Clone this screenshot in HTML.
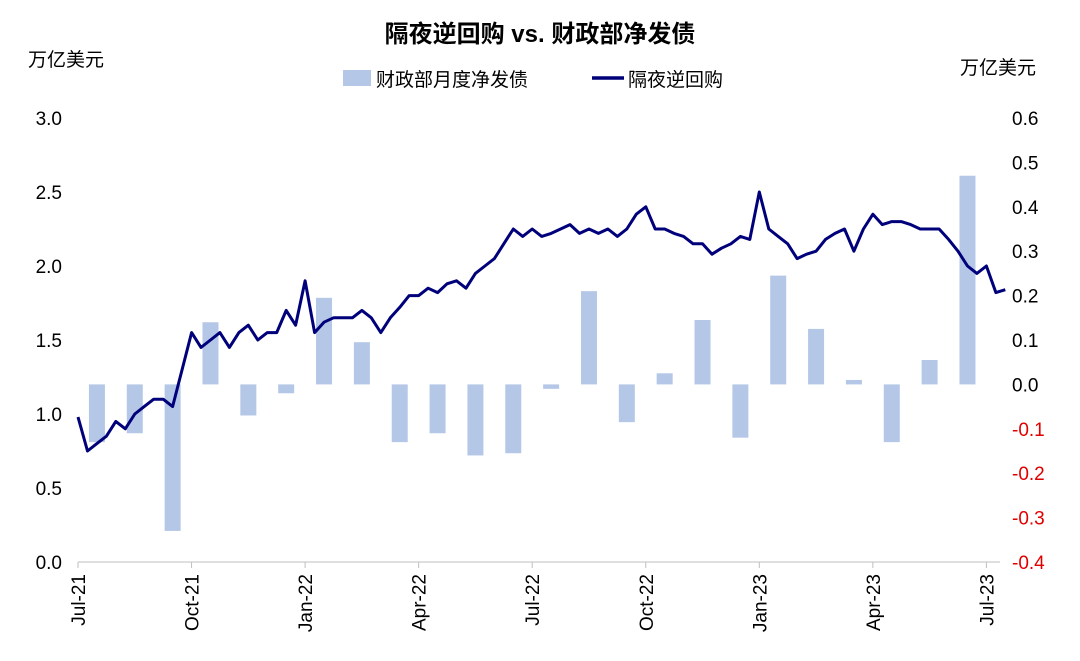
<!DOCTYPE html>
<html><head><meta charset="utf-8"><style>
html,body{margin:0;padding:0;background:#fff;}
svg text{font-family:"Liberation Sans","Noto Sans CJK SC",sans-serif;}
</style></head><body>
<svg id="chart" width="1080" height="656" xmlns="http://www.w3.org/2000/svg">
<text x="540" y="42" text-anchor="middle" font-size="24" font-weight="bold" fill="#000">隔夜逆回购 vs. 财政部净发债</text>
<text x="28" y="66" font-size="19" fill="#000">万亿美元</text>
<text x="960" y="74" font-size="19" fill="#000">万亿美元</text>
<g>
<rect x="343" y="70" width="28" height="16" fill="#b4c7e7"/>
<text x="376" y="86" font-size="19">财政部月度净发债</text>
<line x1="592" y1="78" x2="624" y2="78" stroke="#00007a" stroke-width="3.5"/>
<text x="628" y="86" font-size="19">隔夜逆回购</text>
</g>
<g id="axes"></g>
<g id="bars"></g>
<g id="line"></g>
</svg>
<script>
const xTickLabels=["Jul-21","Oct-21","Jan-22","Apr-22","Jul-22","Oct-22","Jan-23","Apr-23","Jul-23"];
const leftTicks=[0,0.5,1,1.5,2,2.5,3];
const rightTicks=[-0.4,-0.3,-0.2,-0.1,0,0.1,0.2,0.3,0.4,0.5,0.6];
const barValues=[-0.13,-0.11,-0.33,0.14,-0.07,-0.02,0.195,0.095,-0.13,-0.11,-0.16,-0.155,-0.01,0.21,-0.085,0.025,0.145,-0.12,0.245,0.125,0.01,-0.13,0.055,0.47];
// weekly-ish samples, step = 0.25 month starting Jul-21
const lineStepMonths=0.25;
const lineValues=[0.98,0.75,0.8,0.85,0.95,0.9,1.0,1.05,1.1,1.1,1.05,1.3,1.55,1.45,1.5,1.55,1.45,1.55,1.6,1.5,1.55,1.55,1.7,1.6,1.9,1.55,1.62,1.65,1.65,1.65,1.7,1.65,1.55,1.65,1.72,1.8,1.8,1.85,1.82,1.88,1.9,1.85,1.95,2.0,2.05,2.15,2.25,2.2,2.25,2.2,2.22,2.25,2.28,2.22,2.25,2.22,2.25,2.2,2.25,2.35,2.4,2.25,2.25,2.22,2.2,2.15,2.15,2.08,2.12,2.15,2.2,2.18,2.5,2.25,2.2,2.15,2.05,2.08,2.1,2.18,2.22,2.25,2.1,2.25,2.35,2.28,2.3,2.3,2.28,2.25,2.25,2.25,2.18,2.1,2.0,1.95,2.0,1.82,1.84];
const NS="http://www.w3.org/2000/svg";
const X0=78,X1=1000,YT=118,YB=562,MW=37.85;
const xM=m=>X0+m*MW;
const yL=v=>YB-(v/3)*(YB-YT);
const yR=v=>YB-((v+0.4)/1.0)*(YB-YT);
function mk(tag,attrs,parent){const e=document.createElementNS(NS,tag);for(const k in attrs)e.setAttribute(k,attrs[k]);parent.appendChild(e);return e;}
const axes=document.getElementById('axes');
let el=mk('line',{x1:X0,y1:YB,x2:X1,y2:YB,stroke:'#bfbfbf','stroke-width':1},axes);


leftTicks.forEach(v=>{const t=mk('text',{x:62,y:yL(v)+7,'text-anchor':'end','font-size':19,fill:'#000'},axes);t.textContent=v.toFixed(1);

});
rightTicks.forEach(v=>{const t=mk('text',{x:1012,y:yR(v)+7,'font-size':19,fill:v<0?'#e00000':'#000'},axes);t.textContent=(Math.abs(v)<1e-9?0:v).toFixed(1);

});
xTickLabels.forEach((s,i)=>{const x=xM(i*3);
const tk=mk('line',{x1:x,y1:YB,x2:x,y2:YB+6,stroke:'#bfbfbf'},axes);


const t=mk('text',{x:0,y:0,'text-anchor':'end','font-size':19,fill:'#000',transform:`translate(${x+7},${YB+12}) rotate(-90)`},axes);t.textContent=s;

});
const bars=document.getElementById('bars');
barValues.forEach((v,i)=>{const cx=xM(i+0.5),y0=yR(0),y1=yR(v);
const r=mk('rect',{x:cx-8,y:Math.min(y0,y1),width:16,height:Math.abs(y1-y0),fill:'#b4c7e7'},bars);

});
const pts=lineValues.map((v,i)=>xM(i*lineStepMonths).toFixed(1)+','+yL(v).toFixed(1)).join(' ');
const pl=mk('polyline',{points:pts,fill:'none',stroke:'#00007a','stroke-width':3,'stroke-linejoin':'round'},document.getElementById('line'));


</script>
</body></html>
